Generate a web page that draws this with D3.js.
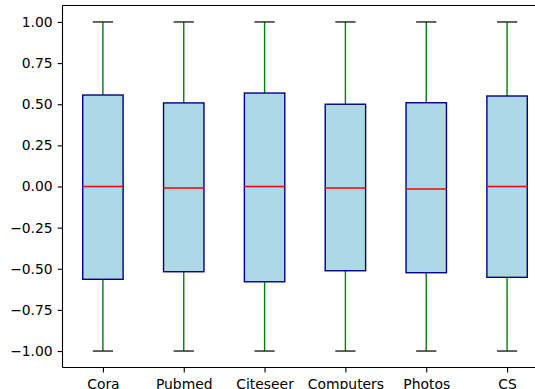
<!DOCTYPE html>
<html>
<head>
<meta charset="utf-8">
<script src="https://cdn.jsdelivr.net/npm/d3@7"></script>
<style>
  body { margin: 0; background: #fff; }
  svg { display: block; }
  text { font-family: "DejaVu Sans", sans-serif; }
</style>
</head>
<body>
<div id="chart"></div>
<script>
// chart size, the figure is cut off on the right like the original
const width = 535
const height = 389

const datasets = ["Cora", "Pubmed", "Citeseer", "Computers", "Photos", "CS"]
const lowWhisker = [-1, -1, -1, -1, -1, -1]
const q1 = [-0.564, -0.518, -0.579, -0.512, -0.524, -0.552]
const medians = [0.0, -0.009, 0.0, -0.009, -0.015, 0.0]
const q3 = [0.556, 0.508, 0.568, 0.50, 0.509, 0.55]
const highWhisker = [1, 1, 1, 1, 1, 1]
const yTicks = [-1, -0.75, -0.5, -0.25, 0, 0.25, 0.5, 0.75, 1]

const boxWidth = 0.5
const capWidth = 0.25

const xScale = d3.scaleLinear().domain([0.5, 6.5]).range([62.5, 547.5])
const yScale = d3.scaleLinear().domain([-1.1, 1.1]).range([367.5, 5.5])

const svg = d3.select('#chart')
  .append('svg')
  .attr('width', width)
  .attr('height', height)

const rows = datasets.map((name, i) => ({
  name: name, pos: i + 1,
  lo: lowWhisker[i], q1: q1[i], med: medians[i], q3: q3[i], hi: highWhisker[i]
}))

const boxes = svg.selectAll('g.box')
  .data(rows)
  .enter()
  .append('g')
  .attr('class', 'box')

// whiskers
boxes.append('line')
  .attr('x1', d => xScale(d.pos)).attr('x2', d => xScale(d.pos))
  .attr('y1', d => yScale(d.q3)).attr('y2', d => yScale(d.hi))
  .attr('stroke', 'green').attr('stroke-width', 1.4)
boxes.append('line')
  .attr('x1', d => xScale(d.pos)).attr('x2', d => xScale(d.pos))
  .attr('y1', d => yScale(d.q1)).attr('y2', d => yScale(d.lo))
  .attr('stroke', 'green').attr('stroke-width', 1.4)

// caps
boxes.selectAll('line.cap')
  .data(d => [d.lo, d.hi].map(v => ({ pos: d.pos, v: v })))
  .enter()
  .append('line')
  .attr('class', 'cap')
  .attr('x1', d => xScale(d.pos - capWidth / 2))
  .attr('x2', d => xScale(d.pos + capWidth / 2))
  .attr('y1', d => yScale(d.v)).attr('y2', d => yScale(d.v))
  .attr('stroke', '#222').attr('stroke-width', 1.4)

// the boxes
boxes.append('rect')
  .attr('x', d => xScale(d.pos - boxWidth / 2))
  .attr('width', d => xScale(d.pos + boxWidth / 2) - xScale(d.pos - boxWidth / 2))
  .attr('y', d => yScale(d.q3))
  .attr('height', d => yScale(d.q1) - yScale(d.q3))
  .attr('fill', 'lightblue')
  .attr('stroke', 'darkblue')
  .attr('stroke-width', 1.4)

// medians
boxes.append('line')
  .attr('x1', d => xScale(d.pos - boxWidth / 2))
  .attr('x2', d => xScale(d.pos + boxWidth / 2))
  .attr('y1', d => yScale(d.med)).attr('y2', d => yScale(d.med))
  .attr('stroke', 'red').attr('stroke-width', 1.4)

// axes
const yAxis = d3.axisLeft(yScale).tickValues(yTicks).tickFormat(d3.format('.2f'))
  .tickSize(4.9).tickPadding(4.9)
const xAxis = d3.axisBottom(xScale).tickValues(rows.map(d => d.pos))
  .tickFormat((d, i) => datasets[i]).tickSize(4.9).tickPadding(6.3)

const gy = svg.append('g')
  .attr('id', 'y-axis')
  .attr('transform', 'translate(' + xScale(0.5) + ', 0)')
  .call(yAxis)

const gx = svg.append('g')
  .attr('id', 'x-axis')
  .attr('transform', 'translate(0, ' + yScale(-1.1) + ')')
  .call(xAxis)

// top spine
svg.append('line')
  .attr('x1', xScale(0.5)).attr('x2', xScale(6.5))
  .attr('y1', yScale(1.1)).attr('y2', yScale(1.1))
  .attr('stroke', '#000').attr('stroke-width', 1.1)

;[gx, gy].forEach(g => {
  g.select('.domain').attr('stroke', '#000').attr('stroke-width', 1.1)
  g.selectAll('.tick line').attr('stroke', '#000').attr('stroke-width', 1.1)
  g.selectAll('.tick text').attr('fill', '#000')
    .style('font-size', '13.9px').style('font-family', '"DejaVu Sans", sans-serif')
})
gy.select('.domain').attr('d', 'M0,' + yScale(1.1) + 'V' + yScale(-1.1))
gx.select('.domain').attr('d', 'M' + xScale(0.5) + ',0H' + xScale(6.5))
</script>
</body>
</html>
